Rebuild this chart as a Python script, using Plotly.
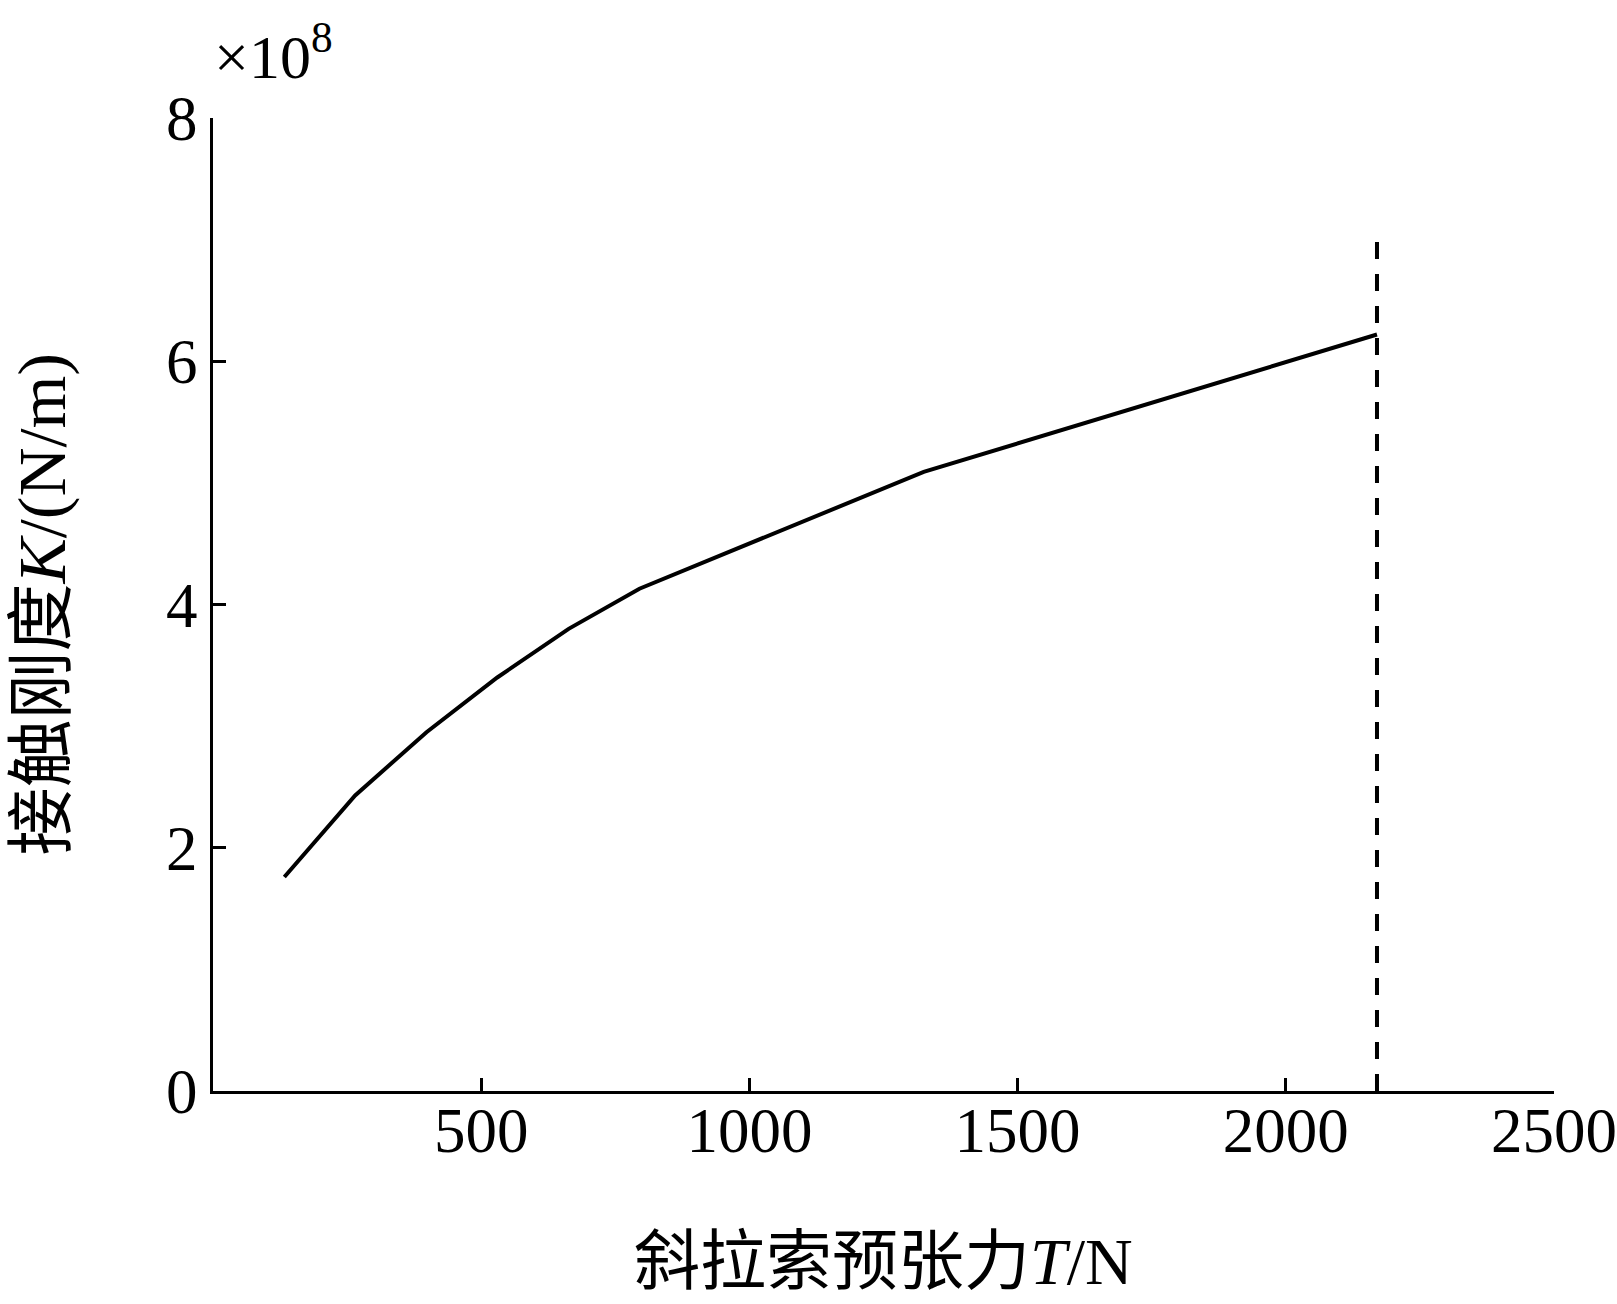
import plotly.graph_objects as go

# Data (stiffness in units of 1e8 N/m)
tension_N = [133, 265, 398, 530, 663, 795, 1325, 2170]
stiffness_1e8 = [1.76, 2.43, 2.95, 3.40, 3.80, 4.13, 5.09, 6.22]
limit_tension = [2170, 2170]
limit_range = [0, 7]

x_ticks = [500, 1000, 1500, 2000, 2500]
y_ticks = [0, 2, 4, 6, 8]

FONT = "Liberation Serif, Times New Roman, Noto Sans CJK SC, serif"

fig = go.Figure()
fig.add_trace(go.Scatter(x=tension_N, y=stiffness_1e8, mode="lines",
                         line=dict(color="black", width=4), showlegend=False))
fig.add_trace(go.Scatter(x=limit_tension, y=limit_range, mode="lines",
                         line=dict(color="black", width=4, dash="17px,15px"),
                         showlegend=False))

fig.update_layout(
    width=1617, height=1304,
    margin=dict(l=213, r=63, t=118, b=213),
    paper_bgcolor="white", plot_bgcolor="white",
    font=dict(family=FONT, size=62, color="black"),
    xaxis=dict(range=[0, 2500], tickvals=x_ticks, ticktext=[str(v) for v in x_ticks],
               showline=True, linecolor="black", linewidth=3, mirror=False,
               ticks="inside", ticklen=13, tickwidth=3, tickcolor="black",
               ticklabeloverflow="allow", automargin=False, ticklabelstandoff=-18,
               showgrid=False, zeroline=False, tickfont=dict(size=63, family=FONT)),
    yaxis=dict(range=[0, 8], tickvals=y_ticks, ticktext=[str(v) for v in y_ticks],
               showline=True, linecolor="black", linewidth=3, mirror=False,
               ticks="inside", ticklen=13, tickwidth=3, tickcolor="black",
               ticklabeloverflow="allow", automargin=False,
               showgrid=False, zeroline=False, tickfont=dict(size=63, family=FONT)),
    annotations=[
        dict(text="斜拉索预张力<i>T</i>/N", xref="paper", yref="paper",
             x=0.5, y=0, yshift=-170, xanchor="center", yanchor="middle",
             showarrow=False, font=dict(size=66, family=FONT)),
        dict(text="接触刚度<i>K</i>/(N/m)", xref="paper", yref="paper",
             x=0, y=0.5, xshift=-172, textangle=-90, xanchor="center", yanchor="middle",
             showarrow=False, font=dict(size=68, family=FONT)),
        dict(text="×10<sup>8</sup>", xref="paper", yref="paper",
             x=0, y=1, xshift=60, yshift=66, xanchor="center", yanchor="middle",
             showarrow=False, font=dict(size=62, family=FONT)),
    ],
)

fig.write_html("out.html")
